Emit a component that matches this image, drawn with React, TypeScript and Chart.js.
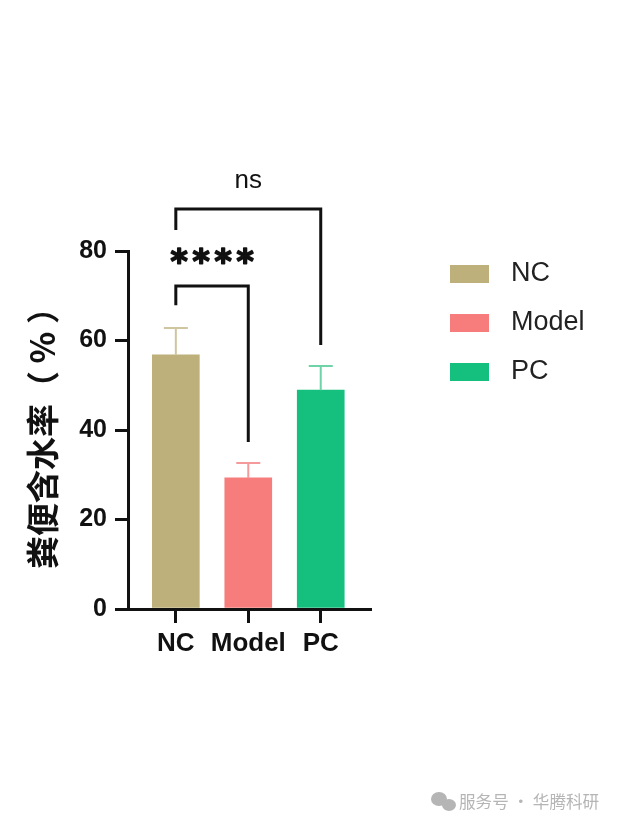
import React, { useEffect, useRef } from "react";
import { Chart, registerables } from "chart.js";

Chart.register(...registerables);

const categories = ["NC", "Model", "PC"];
const means = [56.8, 29.3, 48.9];
const errorsUp = [6.0, 3.3, 5.4];
const barColors = ["#BDB07A", "#F77C7C", "#15BF7E"];
const errColors = ["#CFC59E", "#F59A9A", "#6FD3A8"];
const yTicks = [0, 20, 40, 60, 80];

// significance brackets
const bracketFrom = [0, 0];
const bracketTo = [1, 2];
const bracketTop = [72.2, 89.4];
const bracketLeftEnd = [67.9, 84.7];
const bracketRightEnd = [37.3, 59.0];
const bracketLabels = ["****", "ns"];
const bracketLabelY = [78.6, 95.6];

const yTitle = "粪便含水率（ % ）";
const watermark = "服务号 · 华腾科研";

const annotations = {
  id: "annotations",
  afterDatasetsDraw(chart: any) {
    const ctx = chart.ctx;
    const ys = chart.scales.y;
    const meta = chart.getDatasetMeta(0);
    ctx.save();
    meta.data.forEach((bar: any, i: number) => {
      const x = bar.x;
      const yTop = ys.getPixelForValue(means[i] + errorsUp[i]);
      ctx.strokeStyle = errColors[i];
      ctx.lineWidth = 2;
      ctx.beginPath();
      ctx.moveTo(x, bar.y);
      ctx.lineTo(x, yTop);
      ctx.moveTo(x - 12, yTop);
      ctx.lineTo(x + 12, yTop);
      ctx.stroke();
    });
    ctx.restore();
  },
  afterDraw(chart: any) {
    const ctx = chart.ctx;
    const xs = chart.scales.x;
    const ys = chart.scales.y;
    ctx.save();
    ctx.strokeStyle = "#111";
    ctx.lineWidth = 3;
    ctx.lineCap = "butt";
    ctx.lineJoin = "miter";
    bracketFrom.forEach((f, k) => {
      const x1 = xs.getPixelForValue(f);
      const x2 = xs.getPixelForValue(bracketTo[k]);
      const yt = ys.getPixelForValue(bracketTop[k]);
      ctx.lineWidth = 3;
      ctx.beginPath();
      ctx.moveTo(x1, ys.getPixelForValue(bracketLeftEnd[k]));
      ctx.lineTo(x1, yt);
      ctx.lineTo(x2, yt);
      ctx.lineTo(x2, ys.getPixelForValue(bracketRightEnd[k]));
      ctx.stroke();
      const cx = (x1 + x2) / 2;
      const cy = ys.getPixelForValue(bracketLabelY[k]);
      ctx.fillStyle = "#111";
      ctx.textAlign = "center";
      ctx.textBaseline = "middle";
      const label = bracketLabels[k];
      if (label.startsWith("*")) {
        ctx.font = "bold 33px 'DejaVu Sans', sans-serif";
        ctx.lineWidth = 1.6;
        ctx.lineJoin = "round";
        const n = label.length;
        for (let j = 0; j < n; j++) {
          const sx = cx + (j - (n - 1) / 2) * 22;
          ctx.fillText("*", sx, cy + 7);
          ctx.strokeText("*", sx, cy + 7);
        }
        ctx.lineJoin = "miter";
      } else {
        ctx.font = "26px 'Liberation Sans', Arial, sans-serif";
        ctx.fillText(label, cx, cy);
      }
    });
    // legend
    const lx = 450;
    const ly0 = chart.chartArea.top + 23;
    categories.forEach((c, i) => {
      const cy = ly0 + i * 49;
      ctx.fillStyle = barColors[i];
      ctx.fillRect(lx, cy - 9, 39, 18);
      ctx.fillStyle = "#222";
      ctx.font = "27px 'Liberation Sans', Arial, sans-serif";
      ctx.textAlign = "left";
      ctx.textBaseline = "middle";
      ctx.fillText(c, lx + 61, cy);
    });
    // watermark
    const wy = 802;
    ctx.fillStyle = "#B5B5B5";
    ctx.beginPath();
    ctx.ellipse(439, wy - 3, 8, 7, 0, 0, Math.PI * 2);
    ctx.fill();
    ctx.beginPath();
    ctx.ellipse(449, wy + 3, 7, 6, 0, 0, Math.PI * 2);
    ctx.fill();
    ctx.font = "16.6px 'Noto Sans CJK SC', sans-serif";
    ctx.textAlign = "left";
    ctx.textBaseline = "middle";
    ctx.fillText(watermark, 459, wy);
    ctx.restore();
  },
};

export default function App() {
  const ref = useRef<HTMLCanvasElement>(null);
  useEffect(() => {
    if (!ref.current) return;
    const chart = new Chart(ref.current, {
      type: "bar",
      data: {
        labels: categories,
        datasets: [
          {
            label: "粪便含水率",
            data: means.map((v, i) => ({ x: i, y: v })),
            backgroundColor: barColors,
            borderWidth: 0,
            barThickness: 47,
          },
        ],
      },
      options: {
        animation: false,
        responsive: false,
        devicePixelRatio: 1,
        layout: { padding: { left: 0, right: 252, top: 251, bottom: 160 } },
        plugins: { legend: { display: false }, tooltip: { enabled: false } },
        scales: {
          x: {
            type: "linear",
            offset: false,
            min: -0.66,
            max: 2.68,
            afterFit: (s: any) => {
              s.height = 60;
            },
            ticks: {
              stepSize: 1,
              includeBounds: false,
              autoSkip: false,
              maxRotation: 0,
              padding: 5,
              color: "#111",
              font: { family: "'Liberation Sans', Arial, sans-serif", size: 26, weight: "bold" },
              callback: (v: any) => (Number.isInteger(v) ? categories[v] ?? "" : ""),
            },
            grid: { display: true, offset: false, drawOnChartArea: false, drawTicks: true, tickLength: 14, color: "#111", lineWidth: 3 },
            border: { display: true, color: "#111", width: 3 },
          },
          y: {
            min: 0,
            max: 80,
            afterFit: (s: any) => {
              s.width = 128;
            },
            afterBuildTicks: (s: any) => {
              s.ticks = yTicks.map((v) => ({ value: v }));
            },
            ticks: {
              stepSize: 20,
              padding: 8,
              color: "#111",
              font: { family: "'Liberation Sans', Arial, sans-serif", size: 25, weight: "bold" },
            },
            grid: { display: true, drawOnChartArea: false, drawTicks: true, tickLength: 13, color: "#111", lineWidth: 3 },
            border: { display: true, color: "#111", width: 3 },
            title: {
              display: true,
              text: yTitle,
              color: "#111",
              padding: { top: 23, bottom: 0 },
              font: { family: "'Noto Sans CJK SC', sans-serif", size: 33, weight: "bold" },
            },
          },
        },
      },
      plugins: [annotations],
    });
    return () => chart.destroy();
  }, []);
  return (
    <div style={{ position: "absolute", left: 0, top: 0, width: 622, height: 829, background: "#fff" }}>
      <canvas ref={ref} width={622} height={829} />
    </div>
  );
}
